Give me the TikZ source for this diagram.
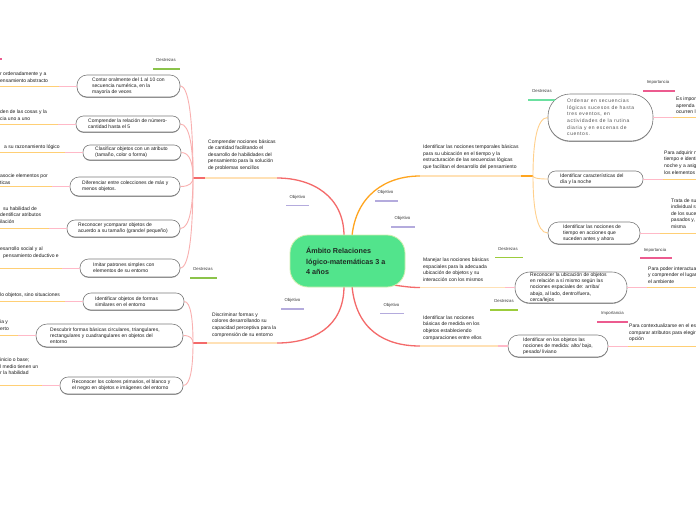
\documentclass[tikz,border=0pt]{standalone}
\usepackage{fontspec}
\setmainfont{Liberation Sans}
\usetikzlibrary{calc,shadows}
\definecolor{cgreen}{HTML}{52E48C}
\definecolor{cgreenb}{HTML}{CFEFAE}
\definecolor{ctext}{HTML}{1E2B24}
\definecolor{redm}{HTML}{F46A6A}
\definecolor{peach}{HTML}{FFE1B6}
\definecolor{redl}{HTML}{F9B0B0}
\definecolor{orm}{HTML}{FFA51F}
\definecolor{orl}{HTML}{FFD08C}
\definecolor{lnpink}{HTML}{FFB9C7}
\definecolor{lnorg}{HTML}{FFCF75}
\definecolor{boxc}{HTML}{7A7A7A}
\definecolor{txtc}{HTML}{1C1C1C}
\definecolor{lblc}{HTML}{3A3A3A}
\definecolor{ulgreen}{HTML}{8BC34A}
\definecolor{ullime}{HTML}{9CCC3C}
\definecolor{ulmint}{HTML}{6BE0A0}
\definecolor{ullav}{HTML}{B4ABDD}
\definecolor{ulpink}{HTML}{EC5B8F}
\definecolor{graytxt}{HTML}{555555}
\begin{document}
\begin{tikzpicture}[x=1pt,y=-1pt,
  boxst/.style={draw=boxc, line width=0.6pt, fill=white, inner sep=0pt, rounded corners=#1,
    drop shadow={shadow xshift=0pt, shadow yshift=-0.8pt, fill=boxc!85, opacity=1}},
  txt/.style={font=\fontsize{5}{6.2}\selectfont, align=left, inner sep=0pt, text=txtc, anchor=west},
  objt/.style={font=\fontsize{5}{6.6}\selectfont, align=left, inner sep=0pt, text=txtc, anchor=west},
  lbl/.style={font=\fontsize{4.3}{5}\selectfont, inner sep=0pt, text=lblc},
  ulg/.style={draw=ulgreen, line width=1.9pt},
  ull/.style={draw=ullime, line width=1.9pt},
  ulm/.style={draw=ulmint, line width=1.9pt},
  ulv/.style={draw=ullav, line width=1.9pt},
  ulp/.style={draw=ulpink, line width=1.9pt},
  mainr/.style={draw=redm, line width=1.3pt},
  maino/.style={draw=orm, line width=1.3pt},
  peachl/.style={draw=peach, line width=1.3pt},
  childr/.style={draw=redl, line width=0.9pt},
  childo/.style={draw=orl, line width=0.9pt},
  lnp/.style={draw=lnpink, line width=0.9pt},
  lno/.style={draw=lnorg, line width=0.9pt}]
\fill[white] (0,0) rectangle (696,520);
\useasboundingbox (0,0) rectangle (696,520);
\clip (0,0) rectangle (696,520);

\coordinate (L) at (0,0);
\coordinate (R) at (696,0);

% ---------- coordinates for branches
\coordinate (hub1) at (193,178);
\coordinate (o1a) at (205,178);
\coordinate (o1b) at (277,178);
\coordinate (hub2) at (193,343);
\coordinate (o2a) at (207,343);
\coordinate (o2b) at (277,343);
\coordinate (oAa) at (420,176);
\coordinate (oAb) at (521,176);
\coordinate (hubA) at (533,176);
\coordinate (oBa) at (420,287.5);
\coordinate (oBb) at (505,287.5);
\coordinate (oCa) at (420,346);
\coordinate (oCb) at (498,346);

% ---------- boxes
\node[boxst=10pt, minimum width=103pt, minimum height=22pt] (t1) at (128.5,86) {};
\node[boxst=7.5pt, minimum width=104pt, minimum height=16pt] (t2) at (128,124) {};
\node[boxst=7pt, minimum width=98pt, minimum height=15pt] (t3) at (132,152.5) {};
\node[boxst=9pt, minimum width=110pt, minimum height=19pt] (t4) at (125,186.5) {};
\node[boxst=8pt, minimum width=113pt, minimum height=17pt] (t5) at (123.5,228.5) {};
\node[boxst=8.5pt, minimum width=100pt, minimum height=18pt] (t6) at (130,268) {};
\node[boxst=8pt, minimum width=101pt, minimum height=17pt] (d1) at (133.5,301.5) {};
\node[boxst=11pt, minimum width=147pt, minimum height=23pt] (d2) at (109.5,335.5) {};
\node[boxst=8pt, minimum width=123pt, minimum height=17pt] (d3) at (121.5,385.5) {};
\node[boxst=22pt, minimum width=105pt, minimum height=47pt] (a1) at (600.5,117.5) {};
\node[boxst=7.5pt, minimum width=95pt, minimum height=16pt] (a2) at (595.5,179) {};
\node[boxst=10.5pt, minimum width=92pt, minimum height=22pt] (a3) at (594,233) {};
\node[boxst=15pt, minimum width=112pt, minimum height=31pt] (b1) at (571,287.5) {};
\node[boxst=10.5pt, minimum width=100pt, minimum height=22pt] (c1) at (558,346) {};

% ---------- box texts
\node[txt] (t1t) at (92,86) {Contar oralmente del 1 al 10 con\\secuencia numérica, en la\\mayoría de veces};
\node[txt] (t2t) at (88,124) {Comprender la relación de número-\\cantidad hasta el 5};
\node[txt] (t3t) at (95,152.5) {Clasificar objetos con un atributo\\(tamaño, color o forma)};
\node[txt] (t4t) at (82,186.5) {Diferenciar entre colecciones de más y\\menos objetos.};
\node[txt] (t5t) at (78,228.5) {Reconocer ycomparar objetos de\\acuerdo a su tamaño (grande/ pequeño)};
\node[txt] (t6t) at (93,268) {Imitar patrones simples con\\elementos de su entorno};
\node[txt] (d1t) at (95,301.5) {Identificar objetos de formas\\similares en el entorno};
\node[txt] (d2t) at (50,335.5) {Descubrir formas básicas circulares, triangulares,\\rectangulares y cuadrangulares en objetos del\\entorno};
\node[txt] (d3t) at (72,385.5) {Reconocer los colores primarios, el blanco y\\el negro en objetos e imágenes del entorno};
\node[txt, text=graytxt, font=\fontsize{5}{6.6}\selectfont\addfontfeatures{LetterSpace=11}] (a1t) at (567,117.5) {Ordenar en secuencias\\lógicas sucesos de hasta\\tres eventos, en\\actividades de la rutina\\diaria y en escenas de\\cuentos.};
\node[txt] (a2t) at (560,179) {Identificar características del\\día y la noche};
\node[txt] (a3t) at (563,233) {Identificar las nociones de\\tiempo en acciones que\\suceden antes y ahora};
\node[txt] (b1t) at (530,287.5) {Reconocer la ubicación de objetos\\en relación a sí mismo según las\\nociones espaciales de: arriba/\\abajo, al lado, dentro/fuera,\\cerca/lejos};
\node[txt] (c1t) at (523,346) {Identificar en los objetos las\\nociones de medida: alto/ bajo,\\pesado/ liviano};

% ---------- main branches
\draw[mainr] (344,236) .. controls (344,196) and (312,178) .. (o1b);
\draw[peachl] (o1b) -- (o1a);
\draw[mainr] (o1a) -- (hub1);
\draw[mainr] (344,286) .. controls (344,328) and (312,343) .. (o2b);
\draw[peachl] (o2b) -- (o2a);
\draw[mainr] (o2a) -- (hub2);
\draw[maino] (352,236) .. controls (356,196) and (385,176) .. (oAa);
\draw[peachl] (oAa) -- (oAb);
\draw[maino] (oAb) -- (hubA);
\draw[mainr] (393,285) .. controls (405,286.5) and (410,287.5) .. (oBa);
\draw[peachl] (oBa) -- (oBb);
\draw[lnp, line width=1.3pt] (oBb) -- (b1.west);
\draw[mainr] (352,286) .. controls (356,330) and (385,346) .. (oCa);
\draw[peachl] (oCa) -- (oCb);
\draw[lnp, line width=1.3pt] (oCb) -- (c1.west);

% ---------- center node
\node[draw=cgreenb, line width=0.8pt, fill=cgreen, rounded corners=18pt, minimum width=115pt, minimum height=52pt, inner sep=0pt] (c) at (347.5,261) {};
\node[font=\fontsize{7.2}{10.5}\selectfont\bfseries, align=left, inner sep=0pt, text=ctext, anchor=west] (ct) at (306,261) {Ámbito Relaciones\\lógico-matemáticas 3 a\\4 años};

% ---------- child curves
\foreach \n in {t1,t2,t3,t4,t5,t6}{
  \draw[childr] (hub1) .. controls ($(hub1)!.55!(hub1|-\n.east)$) and ($(\n.east)!.75!(hub1|-\n.east)$) .. (\n.east);
}
\foreach \n in {d1,d2,d3}{
  \draw[childr] (hub2) .. controls ($(hub2)!.55!(hub2|-\n.east)$) and ($(\n.east)!.75!(hub2|-\n.east)$) .. (\n.east);
}
\foreach \n in {a1,a2,a3}{
  \draw[childo] (hubA) .. controls ($(hubA)!.55!(hubA|-\n.west)$) and ($(\n.west)!.75!(hubA|-\n.west)$) .. (\n.west);
}

% ---------- edge lines (left)
\foreach \n in {t1,t2,t3,t4,t5,t6,d1,d2,d3}{
  \draw[lnp] (\n.west) -- ++(-18,0) coordinate (\n p);
  \draw[lno] (\n p) -- (\n.west -| L);
}
% ---------- edge lines (right)
\foreach \n in {a1,a2,a3,b1,c1}{
  \draw[lnp] (\n.east) -- ++(20,0) coordinate (\n q);
  \draw[lno] (\n q) -- (\n.east -| R);
}

% ---------- objective texts
\node[objt] (ob1) at (208,155) {Comprender nociones básicas\\de cantidad facilitando el\\desarrollo de habilidades del\\pensamiento para la solución\\de problemas sencillos};
\node[objt] (ob2) at (212,325) {Discriminar formas y\\colores desarrollando su\\capacidad perceptiva para la\\comprensión de su entorno};
\node[objt] (obA) at (423,157) {Identificar las nociones temporales básicas\\para su ubicación en el tiempo y la\\estructuración de las secuencias lógicas\\que facilitan el desarrollo del pensamiento};
\node[objt] (obB) at (423,269.5) {Manejar las nociones básicas\\espaciales para la adecuada\\ubicación de objetos y su\\interacción con los mismos};
\node[objt] (obC) at (423,328) {Identificar las nociones\\básicas de medida en los\\objetos estableciendo\\comparaciones entre ellos};

% ---------- left fragments
\node[objt] (f1) at (0,77) {r ordenadamente y a\\ensamiento abstracto};
\node[objt] (f2) at (0,115.5) {den de las cosas y la\\cia uno a uno};
\node[objt] (f3) at (4,147) {a su razonamiento lógico};
\node[objt] (f4) at (0,179) {asocie elementos por\\ticas};
\node[objt] (f5) at (0,215) {\hspace*{3pt}su habilidad de\\dentificar atributos\\ilación};
\node[objt] (f6) at (0,252.5) {esarrollo social y al\\\hspace*{3pt}pensamiento deductivo e};
\node[objt] (f7) at (0,295) {lo objetos, sino situaciones};
\node[objt] (f8) at (0,325.5) {ia y\\erto};
\node[objt] (f9) at (0,366.5) {inicio o base;\\l medio tienen un\\r la habilidad};

% ---------- right fragments
\node[objt] (g1) at (676,105.5) {Es import\\aprenda e\\ocurren l};
\node[objt] (g2) at (664,162.5) {Para adquirir n\\tiempo e identi\\noche y a asig\\los elementos};
\node[objt] (g3) at (671,213.5) {Trata de su\\individual s\\de los suce\\pasados y, s\\misma};
\node[objt] (g4) at (648,275) {Para poder interactuar\\y comprender el lugar\\el ambiente};
\node[objt] (g5) at (629,333) {Para contextualizarse en el esp\\comparar atributos para elegir l\\opción};

% ---------- labels
\node[lbl] (lD1) at (166,60) {Destrezas};
\draw[ulg] (153,69) -- (180,69);
\node[lbl] (lO1) at (297.5,197) {Objetivo};
\draw[ulv] (286,205.5) -- (309,205.5);
\node[lbl] (lD2) at (203,269) {Destrezas};
\draw[ulg] (190,278) -- (217,278);
\node[lbl] (lO2) at (292.5,300) {Objetivo};
\draw[ulv] (281,309) -- (304,309);
\node[lbl] (lOA) at (385.5,192) {Objetivo};
\draw[ulv] (375,201) -- (398,201);
\node[lbl] (lDA) at (542,91) {Destrezas};
\draw[ulm] (528,100) -- (555,100);
\node[lbl] (lIA) at (658,82) {Importancia};
\draw[ulp] (643,91) -- (675,91);
\node[lbl] (lOB) at (402.5,218) {Objetivo};
\draw[ulv] (391,227) -- (415,227);
\node[lbl] (lDB) at (508,249) {Destrezas};
\draw[ull] (495,257.5) -- (523,257.5);
\node[lbl] (lIB) at (655,250) {Importancia};
\draw[ulp] (640,258) -- (672,258);
\node[lbl] (lOC) at (391.5,305) {Objetivo};
\draw[ulv] (380,313.5) -- (404,313.5);
\node[lbl] (lDC) at (504,301) {Destrezas};
\draw[ull] (490,310) -- (518,310);
\node[lbl] (lIC) at (612.5,313) {Importancia};
\draw[ulp] (597,322) -- (628,322);
\draw[ulp] (-5,59) -- (1.5,59);
\end{tikzpicture}
\end{document}
